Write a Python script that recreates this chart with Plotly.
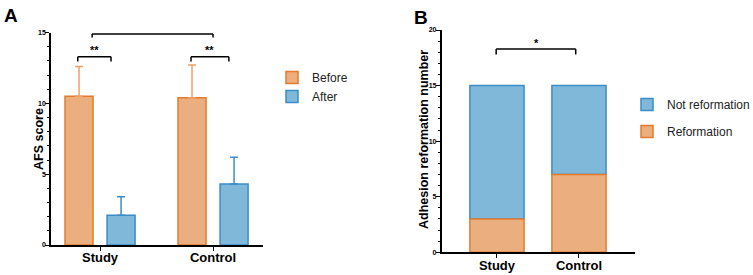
import plotly.graph_objects as go

# ---------------- data ----------------
groups = ["Study", "Control"]
afs_before = [10.5, 10.4]
afs_before_sd = [2.1, 2.3]
afs_after = [2.1, 4.3]
afs_after_sd = [1.3, 1.9]

reformation = [3, 7]
not_reformation = [12, 8]

# ---------------- styles ----------------
OR_FILL = "#EBAE7E"
OR_LINE = "#E27B2E"
OR_ERR = "#EE9F66"
BL_FILL = "#80B8DA"
BL_LINE = "#3A8DC8"
BL_ERR = "#3A8DC8"
FONT = "Arial, Liberation Sans, sans-serif"

W, H = 753, 275
xpos = list(range(len(groups)))

fig = go.Figure()

# Panel A
bw_a = 0.248
fig.add_trace(go.Bar(
    x=xpos, y=afs_before, name="Before", xaxis="x", yaxis="y",
    width=bw_a, offset=-0.31,
    marker=dict(color=OR_FILL, line=dict(color=OR_LINE, width=1.5)),
    error_y=dict(type="data", array=afs_before_sd, arrayminus=[0, 0], symmetric=False,
                 color=OR_ERR, thickness=1.5, width=4),
    legend="legend",
))
fig.add_trace(go.Bar(
    x=xpos, y=afs_after, name="After", xaxis="x", yaxis="y",
    width=bw_a, offset=0.062,
    marker=dict(color=BL_FILL, line=dict(color=BL_LINE, width=1.5)),
    error_y=dict(type="data", array=afs_after_sd, arrayminus=[0, 0], symmetric=False,
                 color=BL_ERR, thickness=1.5, width=4),
    legend="legend",
))

# Panel B (stacked via base)
bw_b = 0.66
fig.add_trace(go.Bar(
    x=xpos, y=not_reformation, base=reformation, name="Not reformation",
    xaxis="x2", yaxis="y2", width=bw_b, offset=-bw_b / 2,
    marker=dict(color=BL_FILL, line=dict(color=BL_LINE, width=1.5)),
    legend="legend2", legendgroup="nr",
))
fig.add_trace(go.Bar(
    x=xpos, y=reformation, name="Reformation",
    xaxis="x2", yaxis="y2", width=bw_b, offset=-bw_b / 2,
    marker=dict(color=OR_FILL, line=dict(color=OR_LINE, width=1.5)),
    legend="legend2", legendgroup="r",
))

def px_x(p):
    return p / W

def px_y(p):
    return 1 - p / H

yaxis_common = dict(
    showline=True, linecolor="black", linewidth=1.6,
    ticks="outside", ticklen=4, tickwidth=1.2, tickcolor="black",
    showgrid=False, zeroline=False, ticklabelstandoff=-2,
    tickfont=dict(family=FONT, size=7, color="black", weight="bold"),
    minor=dict(ticks="outside", ticklen=2, tickwidth=1, tickcolor="black", dtick=1, showgrid=False),
)
xaxis_common = dict(
    showline=True, linecolor="black", linewidth=1.6,
    ticks="outside", ticklen=4, tickwidth=1.2, tickcolor="black",
    showgrid=False, zeroline=False, ticklabelstandoff=-4,
    tickmode="array", tickvals=xpos, ticktext=groups,
    tickfont=dict(family=FONT, size=13, color="black", weight="bold"),
)

fig.update_layout(
    width=W, height=H,
    margin=dict(l=0, r=0, t=0, b=0, autoexpand=False),
    paper_bgcolor="white", plot_bgcolor="white",
    barmode="overlay",
    font=dict(family=FONT, color="black"),
    xaxis=dict(domain=[px_x(51), px_x(263)], range=[-0.434, 1.442], anchor="y", **xaxis_common),
    yaxis=dict(domain=[px_y(245), px_y(32.5)], range=[0, 15], dtick=5, anchor="x", **yaxis_common),
    xaxis2=dict(domain=[px_x(441.7), px_x(635)], range=[-0.674, 1.683], anchor="y2", **xaxis_common),
    yaxis2=dict(domain=[px_y(252.3), px_y(30)], range=[0, 20], dtick=5, anchor="x2", **yaxis_common),
    legend=dict(x=px_x(272), y=px_y(63), xanchor="left", yanchor="top",
                font=dict(family=FONT, size=12, color="#222"), bgcolor="rgba(0,0,0,0)",
                traceorder="normal", itemwidth=30, tracegroupgap=0),
    legend2=dict(x=px_x(627), y=px_y(90), xanchor="left", yanchor="top",
                 font=dict(family=FONT, size=12, color="#222"), bgcolor="rgba(0,0,0,0)",
                 traceorder="grouped", tracegroupgap=8, itemwidth=30),
    showlegend=True,
)

# significance brackets
line_style = dict(color="black", width=1.5)
shapes = []
def bracket(xref, yref, x0, x1, ytop, ylow):
    for (a, b, c, d) in [(x0, ylow, x0, ytop), (x0, ytop, x1, ytop), (x1, ytop, x1, ylow)]:
        shapes.append(dict(type="line", xref=xref, yref=yref, x0=a, y0=b, x1=c, y1=d,
                           line=line_style))

# Panel A brackets (category index units)
bracket("x", "y", -0.197, 0.097, 13.29, 12.95)
bracket("x", "y", 1 - 0.195, 1 + 0.14, 13.29, 12.95)
bracket("x", "y", -0.07, 1.0, 14.89, 14.65)
# Panel B bracket
bracket("x2", "y2", -0.01, 0.96, 18.3, 17.8)
fig.update_layout(shapes=shapes)

ann = []
def star(xref, yref, x, y, txt):
    ann.append(dict(xref=xref, yref=yref, x=x, y=y, text=txt, showarrow=False,
                    font=dict(family=FONT, size=11, color="black", weight="bold")))
star("x", "y", -0.05, 13.75, "**")
star("x", "y", 0.965, 13.75, "**")
star("x", "y", 0.46, 15.3, "*")
star("x2", "y2", 0.476, 18.85, "*")

# axis titles
ann.append(dict(xref="paper", yref="paper", x=px_x(30), y=px_y(139), text="AFS score",
                textangle=-90, showarrow=False,
                font=dict(family=FONT, size=12.5, color="black", weight="bold")))
ann.append(dict(xref="paper", yref="paper", x=px_x(424), y=px_y(140),
                text="Adhesion reformation number", textangle=-90, showarrow=False,
                font=dict(family=FONT, size=12.5, color="black", weight="bold")))
# panel letters
ann.append(dict(xref="paper", yref="paper", x=px_x(2), y=px_y(3), xanchor="left", yanchor="top",
                text="A", showarrow=False, font=dict(family=FONT, size=19, color="black", weight="bold")))
ann.append(dict(xref="paper", yref="paper", x=px_x(412), y=px_y(5), xanchor="left", yanchor="top",
                text="B", showarrow=False, font=dict(family=FONT, size=19, color="black", weight="bold")))
fig.update_layout(annotations=ann)

fig.write_html("out.html", config={"displayModeBar": False},
               post_script="document.body.style.margin='0';")
